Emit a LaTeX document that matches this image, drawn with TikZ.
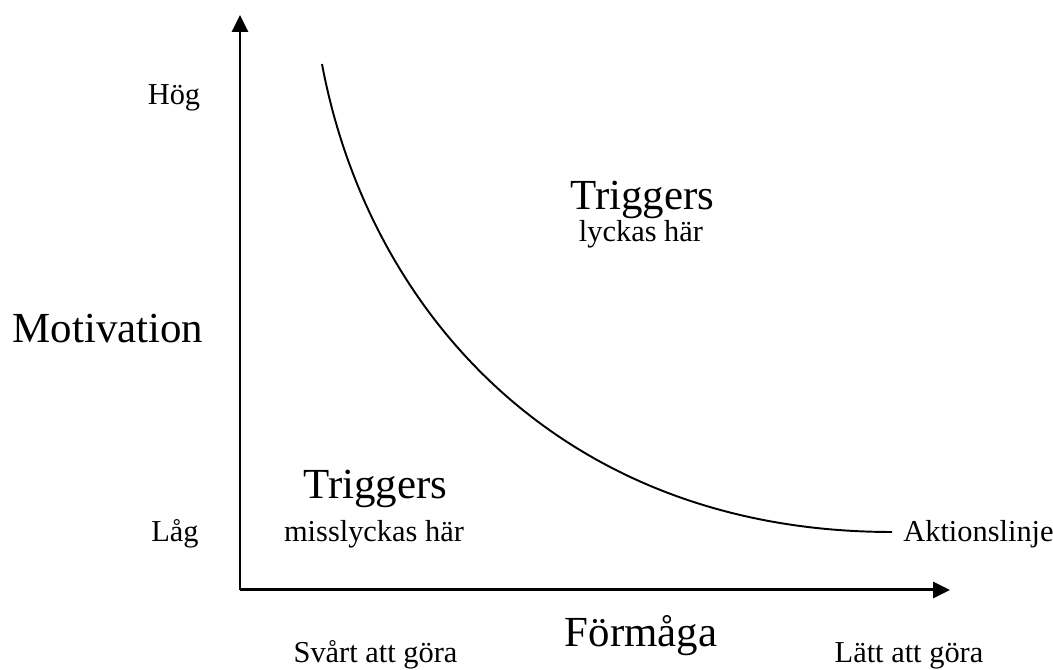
\documentclass[tikz,border=0pt]{standalone}
\usepackage{fontspec}
\setmainfont{Liberation Serif}
\usetikzlibrary{arrows.meta}

\tikzset{
  axel/.style={line width=1.7pt,-{Triangle[length=9.6pt,width=9pt]}},
  stor/.style={font=\fontsize{24.4}{28}\selectfont,inner sep=0pt,anchor=base},
  liten/.style={font=\fontsize{17.3}{20}\selectfont,inner sep=0pt,anchor=base}
}

\begin{document}
\begin{tikzpicture}

% Ram
\useasboundingbox (-4.8,-1.6) rectangle (16.26,11.8);

% Axlar
\coordinate (o) at (0,0);
\coordinate (ytopp) at (0,11.5);
\coordinate (xslut) at (14.2,0);
\draw[axel] (o) -- (ytopp);
\draw[axel] (o) -- (xslut);

% Aktionslinje
\coordinate (start) at (1.64,10.52);
\coordinate (aktion) at (13.04,1.16);
\draw[line width=1.1pt] (start) .. controls (2.56,5.6) and (6.4,1.16) .. (aktion);
\node[liten,anchor=base west] (aktionstext) at (13.26,0.96) {Aktionslinje};

% Texter
\node[stor] (motivation) at (-2.64,4.94) {Motivation};
\node[liten] (hog) at (-1.32,9.7) {Hög};
\node[liten] (lag) at (-1.3,0.96) {Låg};

\node[stor] (formaga) at (8.02,-1.14) {Förmåga};
\node[liten] (svart) at (2.71,-1.46) {Svårt att göra};
\node[liten] (latt) at (13.38,-1.46) {Lätt att göra};

\node[stor] (trigghog) at (8.05,7.6) {Triggers};
\node[liten] (lyckas) at (8.02,6.96) {lyckas här};
\node[stor] (trigglag) at (2.71,1.82) {Triggers};
\node[liten] (misslyckas) at (2.68,0.96) {misslyckas här};

\end{tikzpicture}
\end{document}
